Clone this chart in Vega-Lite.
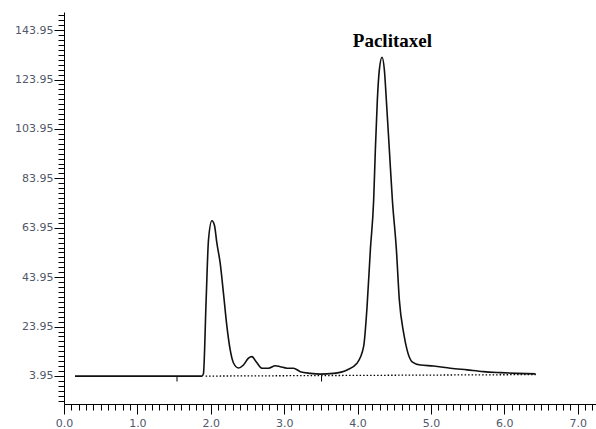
{
  "$schema": "https://vega.github.io/schema/vega-lite/v6.json",
  "width": 532,
  "height": 392,
  "autosize": {"type": "none"},
  "padding": {"left": 64, "top": 12, "right": 0, "bottom": 25},
  "background": "white",
  "config": {"view": {"stroke": null}},
  "datasets": {
    "signal": [
      {"x": 0.15, "y": 3.9}, {"x": 1.0, "y": 3.9}, {"x": 1.88, "y": 3.9}, {"x": 1.9, "y": 4.8},
      {"x": 1.937, "y": 34.7}, {"x": 1.969, "y": 59.0}, {"x": 2.015, "y": 66.8}, {"x": 2.05, "y": 65.0},
      {"x": 2.083, "y": 57.8}, {"x": 2.128, "y": 49.7}, {"x": 2.173, "y": 37.5}, {"x": 2.22, "y": 24.0},
      {"x": 2.265, "y": 14.5}, {"x": 2.31, "y": 9.2}, {"x": 2.378, "y": 7.2}, {"x": 2.446, "y": 8.4},
      {"x": 2.514, "y": 11.2}, {"x": 2.561, "y": 11.8}, {"x": 2.619, "y": 9.7}, {"x": 2.697, "y": 7.1},
      {"x": 2.787, "y": 7.1}, {"x": 2.879, "y": 8.1}, {"x": 2.947, "y": 7.7}, {"x": 3.038, "y": 7.1},
      {"x": 3.128, "y": 7.1}, {"x": 3.22, "y": 5.7}, {"x": 3.356, "y": 5.0}, {"x": 3.492, "y": 4.7},
      {"x": 3.674, "y": 5.0}, {"x": 3.857, "y": 6.4}, {"x": 3.993, "y": 9.1}, {"x": 4.083, "y": 15.8},
      {"x": 4.13, "y": 32.0}, {"x": 4.175, "y": 55.0}, {"x": 4.22, "y": 75.2}, {"x": 4.243, "y": 95.4},
      {"x": 4.27, "y": 115.6}, {"x": 4.297, "y": 127.8}, {"x": 4.334, "y": 133.0}, {"x": 4.366, "y": 127.8},
      {"x": 4.393, "y": 115.6}, {"x": 4.434, "y": 95.4}, {"x": 4.475, "y": 75.2}, {"x": 4.53, "y": 55.0},
      {"x": 4.57, "y": 34.7}, {"x": 4.629, "y": 21.3}, {"x": 4.675, "y": 14.5}, {"x": 4.744, "y": 9.7},
      {"x": 4.857, "y": 8.4}, {"x": 5.034, "y": 8.0}, {"x": 5.266, "y": 7.1}, {"x": 5.494, "y": 6.4},
      {"x": 5.716, "y": 5.7}, {"x": 5.948, "y": 5.3}, {"x": 6.176, "y": 5.0}, {"x": 6.426, "y": 4.8}
    ],
    "baseline": [
      {"x": 1.93, "y": 3.9}, {"x": 6.43, "y": 4.5}
    ],
    "markers": [
      {"x": 1.54, "y": 3.9, "y2": 1.7}, {"x": 3.51, "y": 3.9, "y2": 1.7}
    ],
    "labels": [
      {"x": 4.475, "y": 137.2, "label": "Paclitaxel"}
    ]
  },
  "encoding": {
    "x": {
      "field": "x", "type": "quantitative",
      "scale": {"domain": [0, 7.25], "nice": false, "zero": false},
      "axis": {
        "title": null, "grid": false,
        "values": [0,0.1,0.2,0.3,0.4,0.5,0.6,0.7,0.8,0.9,1,1.1,1.2,1.3,1.4,1.5,1.6,1.7,1.8,1.9,2,2.1,2.2,2.3,2.4,2.5,2.6,2.7,2.8,2.9,3,3.1,3.2,3.3,3.4,3.5,3.6,3.7,3.8,3.9,4,4.1,4.2,4.3,4.4,4.5,4.6,4.7,4.8,4.9,5,5.1,5.2,5.3,5.4,5.5,5.6,5.7,5.8,5.9,6,6.1,6.2,6.3,6.4,6.5,6.6,6.7,6.8,6.9,7,7.1,7.2],
        "labelExpr": "indexof([0,1,2,3,4,5,6,7], datum.value) >= 0 ? format(datum.value, '.1f') : ''",
        "tickSize": {"condition": {"test": "indexof([0,1,2,3,4,5,6,7], datum.value) >= 0", "value": 10}, "value": 6},
        "labelOverlap": false, "labelFlush": false, "labelBound": false,
        "labelFont": "DejaVu Sans", "labelFontSize": 11, "labelColor": "#50586a", "labelPadding": 3,
        "domainColor": "#000000", "tickColor": "#000000", "domainWidth": 1, "tickWidth": 1
      }
    },
    "y": {
      "field": "y", "type": "quantitative",
      "scale": {"domain": [-7.4, 151.3], "nice": false, "zero": false},
      "axis": {
        "title": null, "grid": false,
        "values": [-6.05,-4.05,-2.05,-0.05,1.95,3.95,5.95,7.95,9.95,11.95,13.95,15.95,17.95,19.95,21.95,23.95,25.95,27.95,29.95,31.95,33.95,35.95,37.95,39.95,41.95,43.95,45.95,47.95,49.95,51.95,53.95,55.95,57.95,59.95,61.95,63.95,65.95,67.95,69.95,71.95,73.95,75.95,77.95,79.95,81.95,83.95,85.95,87.95,89.95,91.95,93.95,95.95,97.95,99.95,101.95,103.95,105.95,107.95,109.95,111.95,113.95,115.95,117.95,119.95,121.95,123.95,125.95,127.95,129.95,131.95,133.95,135.95,137.95,139.95,141.95,143.95,145.95,147.95,149.95],
        "labelExpr": "indexof([3.95,23.95,43.95,63.95,83.95,103.95,123.95,143.95], datum.value) >= 0 ? format(datum.value, '.2f') : ''",
        "tickSize": {"condition": {"test": "indexof([3.95,23.95,43.95,63.95,83.95,103.95,123.95,143.95], datum.value) >= 0", "value": 10}, "value": 6},
        "labelOverlap": false, "labelBound": false, "labelFlush": false,
        "labelFont": "DejaVu Sans", "labelFontSize": 11, "labelColor": "#50586a", "labelPadding": 1,
        "domainColor": "#000000", "tickColor": "#000000", "domainWidth": 1, "tickWidth": 1
      }
    }
  },
  "layer": [
    {
      "data": {"name": "baseline"},
      "mark": {"type": "line", "color": "#000000", "strokeWidth": 1.3, "strokeDash": [1.5, 2]},
      "encoding": {}
    },
    {
      "data": {"name": "markers"},
      "mark": {"type": "rule", "color": "#000000", "strokeWidth": 1},
      "encoding": {"y2": {"field": "y2"}}
    },
    {
      "data": {"name": "signal"},
      "mark": {"type": "line", "color": "#111111", "strokeWidth": 1.6, "interpolate": "monotone"},
      "encoding": {"order": {"field": "x", "type": "quantitative"}}
    },
    {
      "data": {"name": "labels"},
      "mark": {"type": "text", "font": "Liberation Serif", "fontWeight": "bold", "fontSize": 19, "align": "center", "baseline": "alphabetic", "color": "#000000"},
      "encoding": {"text": {"field": "label"}}
    }
  ]
}
